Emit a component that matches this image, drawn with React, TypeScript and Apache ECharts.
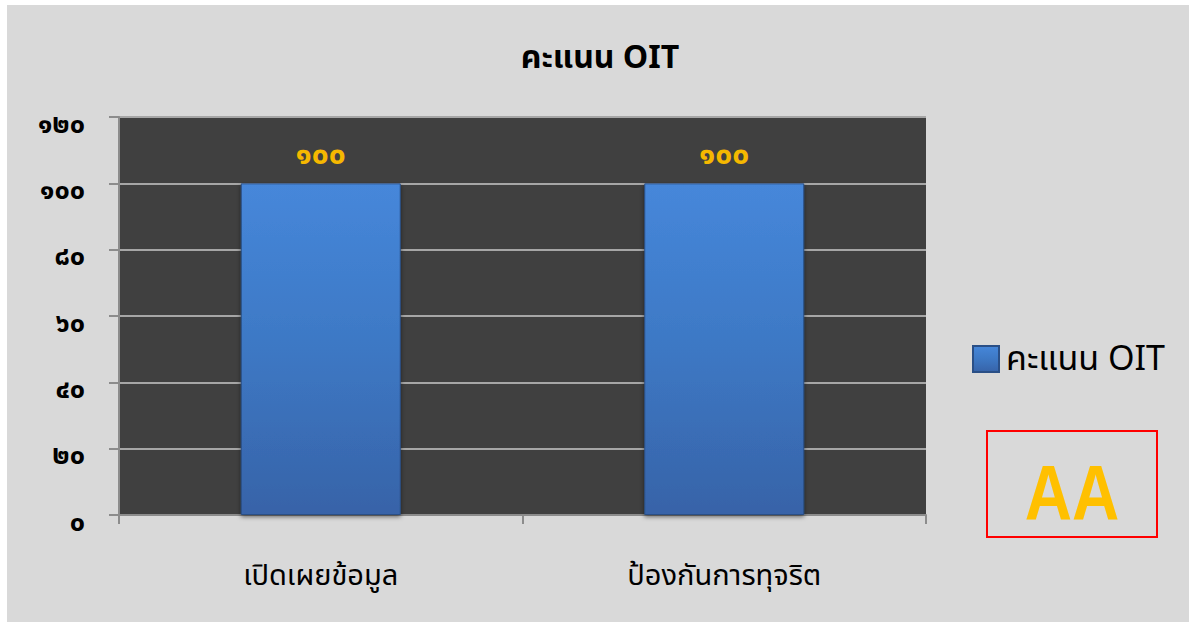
import React, { useEffect, useRef } from "react";
import * as echarts from "echarts";

const categories = ["เปิดเผยข้อมูล", "ป้องกันการทุจริต"];
const scores = [100, 100];
const seriesName = "คะแนน OIT";
const titleText = "คะแนน OIT";
const badgeText = "AA";
const yMin = 0;
const yMax = 120;
const yInterval = 20;

const thaiDigits = ["๐", "๑", "๒", "๓", "๔", "๕", "๖", "๗", "๘", "๙"];
const toThai = (v: number | string) =>
  String(v).replace(/[0-9]/g, (d) => thaiDigits[Number(d)]);

const FONT = "'Noto Sans Thai', 'Noto Sans', 'DejaVu Sans', sans-serif";

export default function App() {
  const ref = useRef<HTMLDivElement>(null);
  useEffect(() => {
    if (!ref.current) return;
    const chart = echarts.init(ref.current, null, { renderer: "svg" });
    chart.setOption({
      animation: false,
      backgroundColor: "#d9d9d9",
      textStyle: { fontFamily: FONT },
      title: {
        text: titleText,
        left: 588,
        top: 48,
        textAlign: "center",
        textVerticalAlign: "middle",
        textStyle: { fontSize: 32, fontWeight: "bold", color: "#000", fontFamily: FONT },
      },
      legend: {
        left: 965,
        top: 337,
        padding: 0,
        itemWidth: 26,
        itemHeight: 26,
        itemGap: 10,
        icon: "rect",
        data: [seriesName],
        textStyle: { fontSize: 34, color: "#000", fontFamily: FONT, padding: [0, 0, 0, 2] },
      },
      grid: { left: 112, right: 263, top: 112, bottom: 107, containLabel: false },
      xAxis: {
        type: "category",
        data: categories,
        axisLine: { lineStyle: { color: "#8c8c8c", width: 2 } },
        axisTick: { show: true, length: 9, lineStyle: { color: "#8c8c8c", width: 2 } },
        axisLabel: { margin: 46, fontSize: 29, color: "#000", fontFamily: FONT },
      },
      yAxis: {
        type: "value",
        min: yMin,
        max: yMax,
        interval: yInterval,
        axisLine: { show: true, lineStyle: { color: "#8c8c8c", width: 2 } },
        axisTick: { show: true, inside: false, length: 10, lineStyle: { color: "#8c8c8c", width: 2 } },
        splitLine: { show: true, lineStyle: { color: "#a6a6a6", width: 2 } },
        splitArea: { show: true, areaStyle: { color: ["#404040", "#404040"] } },
        axisLabel: {
          margin: 34,
          fontSize: 27,
          fontWeight: "bold",
          color: "#000",
          fontFamily: FONT,
          verticalAlign: "top",
          lineHeight: 14,
          formatter: (v: number) => toThai(v),
        },
      },
      series: [
        {
          name: seriesName,
          type: "bar",
          data: scores,
          barWidth: 160,
          itemStyle: {
            color: new echarts.graphic.LinearGradient(0, 0, 0, 1, [
              { offset: 0, color: "#4687da" },
              { offset: 0.5, color: "#3d78c4" },
              { offset: 1, color: "#3763a8" },
            ]),
            borderColor: "#2a4f86",
            borderWidth: 1,
            shadowColor: "rgba(0,0,0,0.5)",
            shadowBlur: 4,
            shadowOffsetY: 2,
          },
          label: {
            show: true,
            position: "top",
            distance: 13,
            fontSize: 30,
            fontWeight: "bold",
            color: "#f5b800",
            fontFamily: FONT,
            formatter: (p: any) => toThai(p.value),
          },
        },
      ],
      graphic: [
        {
          type: "rect",
          x: 980,
          y: 426,
          shape: { width: 170, height: 106 },
          style: { fill: "none", stroke: "#ff0000", lineWidth: 2 },
        },
        {
          type: "text",
          x: 1065,
          y: 488,
          scaleX: 0.84,
          style: {
            text: badgeText,
            fill: "#ffc000",
            font: "bold 78px 'Liberation Sans', Arial, sans-serif",
            textAlign: "center",
            textVerticalAlign: "middle",
          },
        },
      ],
    });
    return () => chart.dispose();
  }, []);
  return (
    <div
      ref={ref}
      style={{ position: "absolute", left: 7, top: 5, width: 1182, height: 617 }}
    />
  );
}
